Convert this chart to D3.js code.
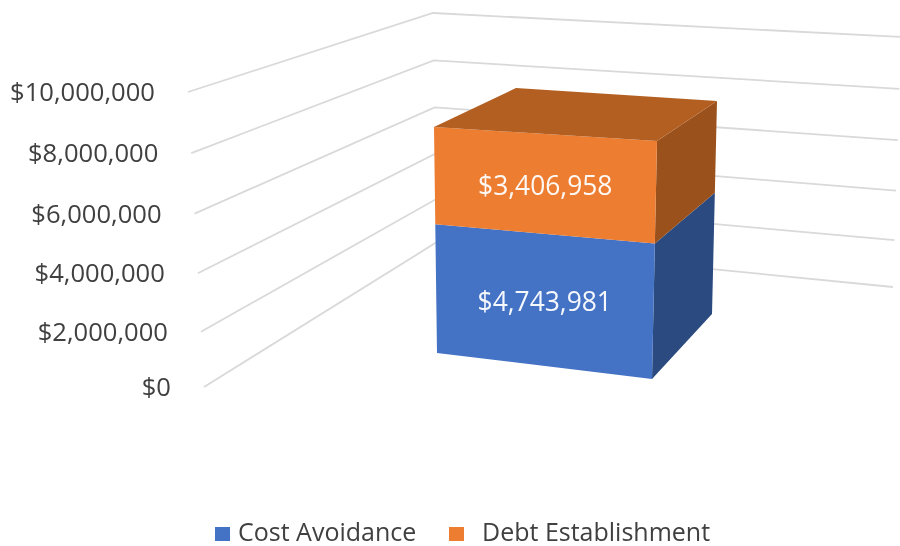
<!DOCTYPE html>
<html>
<head>
<meta charset="utf-8">
<script src="https://cdnjs.cloudflare.com/ajax/libs/d3/7.8.5/d3.min.js"></script>
<style>
html,body{margin:0;padding:0;background:#fff;}
svg{display:block;filter:blur(0.4px);}
text{font-family:"Open Sans","Noto Sans",sans-serif;}
</style>
</head>
<body>
<svg id="chart" width="900" height="546"></svg>
<script>
const seriesNames = ["Cost Avoidance", "Debt Establishment"];
const seriesValues = [4743981, 3406958];
const tickValues = [0, 2000000, 4000000, 6000000, 8000000, 10000000];
const tickLabels = ["$0", "$2,000,000", "$4,000,000", "$6,000,000", "$8,000,000", "$10,000,000"];
const frontColors = ["#4472C4", "#ED7D31"];
const sideColors = ["#2A4A80", "#9A511B"];
const topColor = "#B35F21";

const svg = d3.select("#chart");
const EXP = 1.04;            // perspective foreshortening along the value axis
const AXIS_MAX = 10000000;
const total = d3.sum(seriesValues);

// A vertical edge in perspective: value -> screen point
function edge(domainMax, x0, y0, x1, y1) {
  const xs = d3.scalePow().exponent(EXP).domain([0, domainMax]).range([x0, x1]);
  const ys = d3.scalePow().exponent(EXP).domain([0, domainMax]).range([y0, y1]);
  return v => [xs(v), ys(v)];
}

// Walls
const wallLeft = edge(AXIS_MAX, 204, 387, 188, 92);
const wallBack = edge(AXIS_MAX, 437, 242, 433, 13);
const wallRight = edge(AXIS_MAX, 893, 287, 901, 37);

// Bar edges
const frontLeft = edge(total, 437, 353, 434, 127);
const frontRight = edge(total, 652, 379, 657, 141);
const backRight = edge(total, 712, 314, 717, 101);
const backLeft = edge(total, 513, 300, 516, 88);

const line = d3.line();
const poly = pts => line(pts) + "Z";

// Gridlines
svg.append("g").selectAll("path").data(tickValues).join("path")
  .attr("d", v => line([wallLeft(v), wallBack(v), wallRight(v)]))
  .attr("fill", "none")
  .attr("stroke", "#D9D9D9")
  .attr("stroke-width", 1.8);

// Axis labels
svg.append("g").selectAll("text").data(tickValues).join("text")
  .attr("x", v => wallLeft(v)[0] - 33)
  .attr("y", v => wallLeft(v)[1])
  .attr("dy", "0.35em")
  .attr("text-anchor", "end")
  .attr("font-size", 25.6)
  .attr("fill", "#404040")
  .text((v, i) => tickLabels[i]);

// Stacked bar
const row = {};
seriesNames.forEach((n, i) => row[n] = seriesValues[i]);
const stacked = d3.stack().keys(seriesNames)([row]);

const bar = svg.append("g");
stacked.forEach((s, i) => {
  const [lo, hi] = s[0];
  bar.append("path")
    .attr("d", poly([frontRight(lo), backRight(lo), backRight(hi), frontRight(hi)]))
    .attr("fill", sideColors[i]);
  bar.append("path")
    .attr("d", poly([frontLeft(lo), frontRight(lo), frontRight(hi), frontLeft(hi)]))
    .attr("fill", frontColors[i]);
});
bar.append("path")
  .attr("d", poly([frontLeft(total), frontRight(total), backRight(total), backLeft(total)]))
  .attr("fill", topColor);

// Data labels
stacked.forEach((s, i) => {
  const [lo, hi] = s[0];
  const c = [frontLeft(lo), frontRight(lo), frontRight(hi), frontLeft(hi)];
  bar.append("text")
    .attr("x", d3.mean(c, p => p[0]))
    .attr("y", d3.mean(c, p => p[1]) + 2)
    .attr("dy", "0.35em")
    .attr("text-anchor", "middle")
    .attr("font-size", 26.4)
    .attr("fill", "#fff")
    .attr("fill-opacity", 0.95)
    .text(d3.format("$,")(seriesValues[i]));
});

// Legend
const legendX = d3.scaleOrdinal().domain(seriesNames).range([215, 449]);
const legend = svg.append("g").selectAll("g").data(seriesNames).join("g")
  .attr("transform", d => `translate(${legendX(d)},527)`);
legend.append("rect").attr("width", 15).attr("height", 14)
  .attr("fill", (d, i) => frontColors[i]);
legend.append("text")
  .attr("x", (d, i) => i === 0 ? 23 : 33)
  .attr("y", 5.5)
  .attr("dy", "0.35em")
  .attr("font-size", 25)
  .attr("fill", "#404040")
  .text(d => d);
</script>
</body>
</html>
